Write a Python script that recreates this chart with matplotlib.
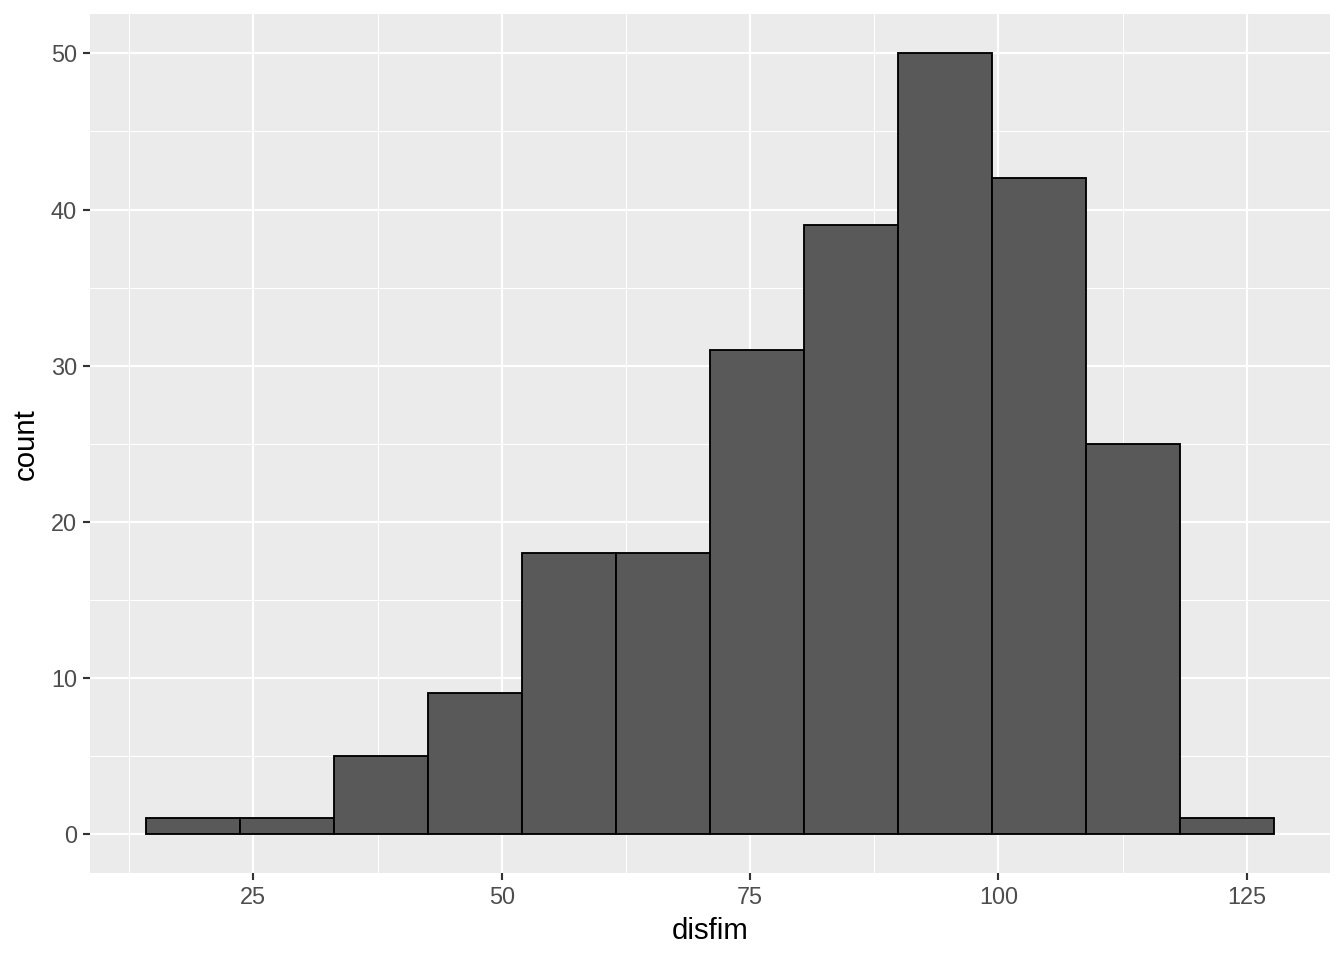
import matplotlib
matplotlib.use("Agg")
import matplotlib.pyplot as plt
import numpy as np

bin_edges = [14.24, 23.70, 33.15, 42.61, 52.06, 61.52, 70.97, 80.43, 89.88, 99.34, 108.79, 118.25, 127.70]
counts = [1, 1, 5, 9, 18, 18, 31, 39, 50, 42, 25, 1]
x_ticks = [25, 50, 75, 100, 125]
y_ticks = [0, 10, 20, 30, 40, 50]

plt.rcParams['font.family'] = ['Liberation Sans', 'DejaVu Sans']

fig = plt.figure(figsize=(7, 5), dpi=192)
ax = fig.add_axes([0.067, 0.0906, 0.9896 - 0.067, 0.985 - 0.0906])
ax.set_facecolor('#EBEBEB')

edges = np.array(bin_edges)
ax.bar(edges[:-1], counts, width=np.diff(edges), align='edge',
       color='#595959', edgecolor='black', linewidth=0.7, zorder=3)

rng = edges[-1] - edges[0]
ax.set_xlim(edges[0] - 0.05 * rng, edges[-1] + 0.05 * rng)
ymax = max(counts)
ax.set_ylim(-0.05 * ymax, ymax * 1.05)

ax.set_xticks(x_ticks)
ax.set_yticks(y_ticks)
xm = [x_ticks[0] - 12.5] + [(a + b) / 2 for a, b in zip(x_ticks[:-1], x_ticks[1:])]
ym = [(a + b) / 2 for a, b in zip(y_ticks[:-1], y_ticks[1:])]
ax.set_xticks(xm, minor=True)
ax.set_yticks(ym, minor=True)

ax.grid(which='major', color='white', linewidth=0.8, zorder=0)
ax.grid(which='minor', color='white', linewidth=0.4, zorder=0)
ax.set_axisbelow(True)
for s in ax.spines.values():
    s.set_visible(False)

ax.tick_params(which='major', length=2.75, width=0.8, color='#333333',
               labelsize=8.8, labelcolor='#4D4D4D', pad=2.2)
ax.tick_params(which='minor', length=0)

ax.set_xlabel('disfim', fontsize=11, color='black', labelpad=3)
ax.set_ylabel('count', fontsize=11, color='black', labelpad=4)

fig.savefig('out.png', dpi=192)
